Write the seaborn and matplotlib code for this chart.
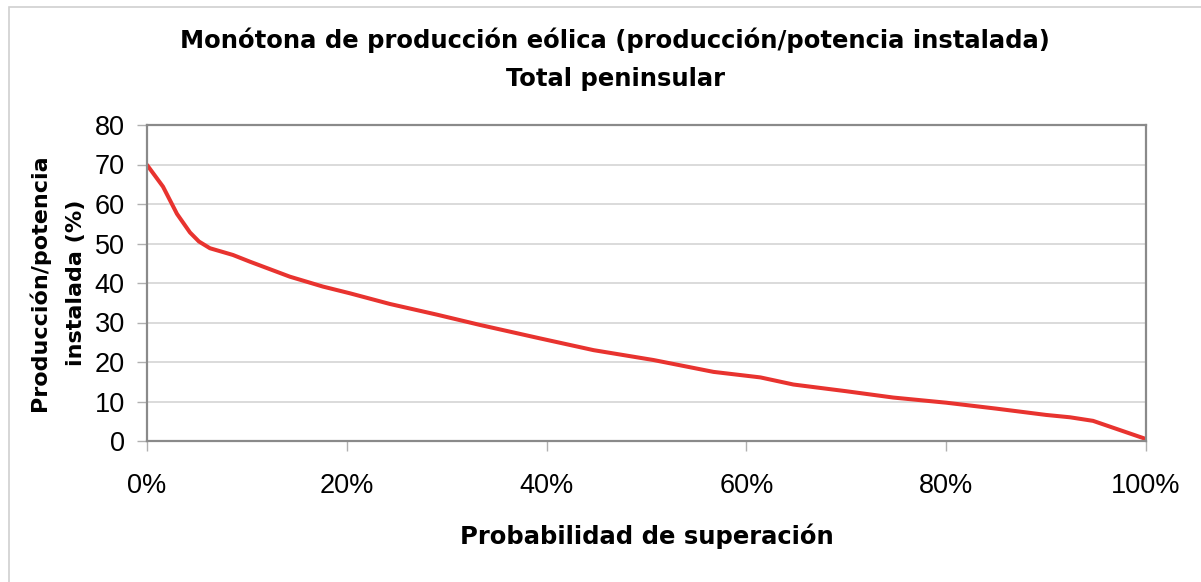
import pandas as pd
import matplotlib
matplotlib.use("Agg")
import matplotlib.pyplot as plt
import seaborn as sns
from matplotlib.ticker import PercentFormatter

# Probabilidad de superacion (%) y produccion/potencia instalada (%)
prob = [0, 1.6, 3.0, 4.3, 5.2, 6.3, 8.6, 10.3, 14.3, 17.6, 20.3, 24.3, 29.0,
        33.3, 39.3, 44.7, 50.7, 56.7, 61.4, 64.7, 70.0, 74.7, 80.0, 85.0,
        90.0, 92.4, 94.7, 100]
ratio = [69.9, 64.4, 57.5, 52.8, 50.5, 48.8, 47.1, 45.4, 41.6, 39.1, 37.4, 34.7, 32.0,
         29.4, 26.0, 23.0, 20.5, 17.5, 16.1, 14.3, 12.6, 11.0, 9.7, 8.2,
         6.6, 6.0, 5.1, 0.5]

title = "Monótona de producción eólica (producción/potencia instalada)\nTotal peninsular"
xlabel = "Probabilidad de superación"
ylabel = "Producción/potencia\ninstalada (%)"

df = pd.DataFrame({"prob": prob, "ratio": ratio})

sns.set_style("white")
plt.rcParams["font.family"] = ["Liberation Sans", "DejaVu Sans"]
plt.rcParams["text.color"] = "black"
plt.rcParams["axes.labelcolor"] = "black"
plt.rcParams["xtick.color"] = "black"
plt.rcParams["ytick.color"] = "black"

fig = plt.figure(figsize=(12.01, 5.82), dpi=100)
ax = fig.add_axes([147 / 1201, 1 - 441 / 582, 999 / 1201, 316 / 582])

# light frame around the chart area
fig.patches.append(plt.Rectangle((9 / 1201, -0.05), 1.1, 1 - 7 / 582 + 0.05,
                                 transform=fig.transFigure, fill=False,
                                 edgecolor="#d0d0d0", linewidth=1.2))

sns.lineplot(data=df, x="prob", y="ratio", color="#e8332f", linewidth=2.9, ax=ax)

ax.set_xlim(0, 100)
ax.set_ylim(0, 80)
ax.set_xticks(range(0, 101, 20))
ax.set_yticks(range(0, 81, 10))
ax.xaxis.set_major_formatter(PercentFormatter(decimals=0))
ax.yaxis.grid(True, color="#d8d8d8", linewidth=1.3)
ax.xaxis.grid(False)
for s in ax.spines.values():
    s.set_color("#8a8a8a")
    s.set_linewidth(1.6)
ax.tick_params(axis="both", direction="out", length=7, width=1,
               color="#b0b0b0", labelsize=19.5, labelcolor="black")
ax.tick_params(axis="x", pad=16)
ax.tick_params(axis="y", pad=9)
ax.tick_params(bottom=True, left=True)

ax.set_xlabel(xlabel, fontsize=17.5, fontweight="bold", family="DejaVu Sans",
              labelpad=18)
ax.set_ylabel(ylabel, fontsize=16, fontweight="bold", family="DejaVu Sans",
              labelpad=6, linespacing=2.0)

fig.text(615 / 1201, 1 - 59 / 582, title, ha="center", va="center",
         fontsize=17.5, fontweight="bold", family="DejaVu Sans", linespacing=1.75)

plt.savefig("out.png", dpi=100)
